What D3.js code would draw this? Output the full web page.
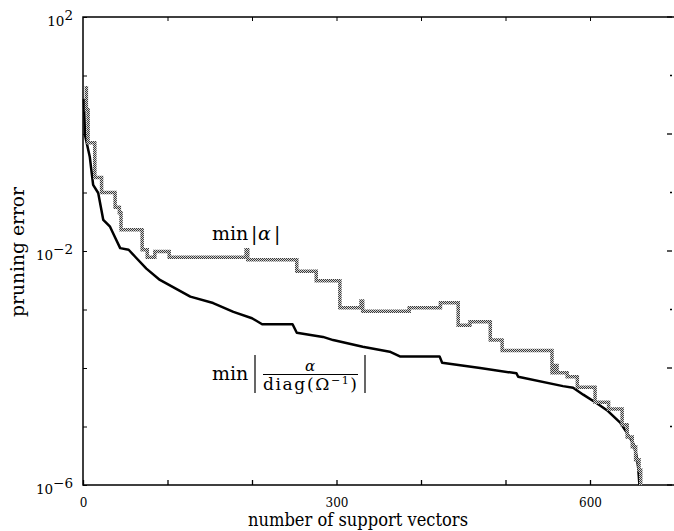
<html>
  <head>
    <meta charset="utf-8">
    <title>pruning error</title>
    <style>
      body { margin: 0; background: #fff; }
      text { font-family: "DejaVu Serif", serif; fill: #000; }
    </style>
  </head>
  <body>
    <script src="https://d3js.org/d3.v7.min.js" charset="utf-8"></script>
    <script>

    var width = 674,
        height = 531;

    // min |alpha| (grey staircase) : x = number of support vectors, y = pruning error
    var grayX = [2, 4, 6, 14, 22, 38, 43, 45, 70, 76, 85, 102, 193, 195, 253, 276, 304, 329, 331, 386,
                 423, 444, 458, 482, 496, 555, 559, 561, 573, 585, 606, 622, 638, 644, 650, 654, 658, 660];
    var grayY = [6.2, 2.6, 0.71, 0.18, 0.10, 0.056, 0.045, 0.023, 0.0105, 0.0078, 0.0098, 0.0078, 0.0105, 0.0071, 0.0045,
                 0.0031, 0.00107, 0.0014, 0.00093, 0.00107, 0.0013, 0.00054, 0.00062, 0.00030, 0.00020,
                 8.3e-5, 1.1e-4, 8.3e-5, 7.1e-5, 4.7e-5, 2.6e-5, 2.0e-5, 1.07e-5, 6.6e-6, 4.5e-6, 2.7e-6, 1.8e-6, 1e-6];

    // min |alpha / diag(Omega^-1)| (black curve)
    var blackX = [1, 2.4, 8, 12, 18, 24, 32, 38, 44, 54, 62, 75, 91, 127, 154, 178, 200, 212, 248, 253,
                  284, 296, 331, 363, 375, 422, 425, 470, 513, 515, 568, 580, 592, 608, 620, 636, 643, 651, 655, 657, 658.5];
    var blackY = [3.98, 0.955, 0.41, 0.135, 0.098, 0.034, 0.026, 0.017, 0.0112, 0.0105,
                  0.0079, 0.0050, 0.0032, 0.00166, 0.00129, 0.00091, 0.00071, 0.00056, 0.00056, 0.00040,
                  0.00034, 0.00030, 0.00023, 0.00019, 0.000158, 0.000158, 0.000123, 1.0e-4, 8.1e-5, 7.1e-5,
                  4.9e-5, 4.6e-5, 3.5e-5, 2.5e-5, 1.9e-5, 1.15e-5, 8.1e-6, 5.2e-6, 3.2e-6, 2.0e-6, 1e-6];

    var xTicks = [0, 100, 200, 300, 400, 500, 600];
    var xLabels = [0, 300, 600];
    var yTicks = [1e2, 1e1, 1e0, 1e-1, 1e-2, 1e-3, 1e-4, 1e-5, 1e-6];
    var yLabels = [2, -2, -6];   // exponents shown on the left

    var pLeft = 83, pRight = 674.5, pTop = 17, pBottom = 485;

    var x = d3.scaleLinear().domain([0, 700]).range([pLeft, pRight]);
    var y = d3.scaleLog().domain([1e-6, 1e2]).range([pBottom, pTop]);

    var svg = d3.select("body").append("svg")
        .attr("width", width)
        .attr("height", height);

    // dithered grey stroke like the scanned original
    var pat = svg.append("defs").append("pattern")
        .attr("id", "dither").attr("patternUnits", "userSpaceOnUse")
        .attr("width", 2).attr("height", 2);
    pat.append("rect").attr("width", 2).attr("height", 2).attr("fill", "#d4d4d4");
    pat.append("rect").attr("width", 1).attr("height", 1).attr("fill", "#3a3a3a");
    pat.append("rect").attr("x", 1).attr("y", 1).attr("width", 1).attr("height", 1).attr("fill", "#3a3a3a");

    // bottom axis, ticks pointing inward
    var xAxis = d3.axisBottom(x).tickValues(xTicks).tickSizeInner(-5).tickSizeOuter(0).tickPadding(13.5)
        .tickFormat(function(d) { return xLabels.indexOf(d) >= 0 ? d : ""; });
    var gx = svg.append("g").attr("transform", "translate(0," + pBottom + ")").call(xAxis);
    gx.attr("font-family", null).attr("font-size", null);
    gx.select(".domain").remove();
    gx.selectAll("line").attr("stroke-width", 1.3);
    gx.selectAll("text").style("font-size", "12px");

    // top ticks
    var gxt = svg.append("g").attr("transform", "translate(0," + pTop + ")")
        .call(d3.axisTop(x).tickValues(xTicks.slice(1)).tickSizeInner(-4).tickSizeOuter(0).tickFormat(""));
    gxt.select(".domain").remove();

    // left ticks
    var gy = svg.append("g").attr("transform", "translate(" + pLeft + ",0)")
        .call(d3.axisLeft(y).tickValues(yTicks).tickSizeInner(-4).tickSizeOuter(0).tickFormat(""));
    gy.select(".domain").remove();

    // right ticks, long on even exponents
    svg.append("g").selectAll("line").data(yTicks).enter().append("line")
        .attr("x1", 672)
        .attr("x2", function(d) { return Math.round(Math.log10(d)) % 2 == 0 ? 667 : 670; })
        .attr("y1", function(d) { return y(d); })
        .attr("y2", function(d) { return y(d); })
        .attr("stroke", "#000").attr("stroke-width", 1.3);

    // left labels 10^n
    var lab = svg.append("g").selectAll("text").data(yLabels).enter().append("text")
        .attr("x", 73)
        .attr("y", function(d) { return y(Math.pow(10, d)) + 8.5; })
        .attr("text-anchor", "end")
        .style("font-size", "13.5px");
    lab.append("tspan").text("10");
    lab.append("tspan").attr("dy", -6).text(function(d) { return d < 0 ? "\u2212" + (-d) : d; });

    // frame
    svg.append("path")
        .attr("d", "M" + pRight + "," + pTop + "H" + pLeft + "V" + pBottom + "H" + pRight)
        .attr("fill", "none").attr("stroke", "#000").attr("stroke-width", 1.5);

    var blackData = blackX.map(function(d, i) { return [d, blackY[i]]; });
    var grayData = grayX.map(function(d, i) { return [d, grayY[i]]; });

    var line = d3.line().x(function(d) { return x(d[0]); }).y(function(d) { return y(d[1]); });
    var step = d3.line().curve(d3.curveStepAfter).x(function(d) { return x(d[0]); }).y(function(d) { return y(d[1]); });

    svg.append("path").datum(blackData)
        .attr("d", line)
        .attr("fill", "none").attr("stroke", "#000").attr("stroke-width", 2.5)
        .attr("stroke-linejoin", "round");

    svg.append("path").datum(grayData)
        .attr("d", step)
        .attr("fill", "none").attr("stroke", "url(#dither)").attr("stroke-width", 3.5);

    // axis titles
    svg.append("text")
        .attr("x", 248).attr("y", 525.5)
        .attr("textLength", 220).attr("lengthAdjust", "spacingAndGlyphs")
        .style("font-size", "18px")
        .text("number of support vectors");

    svg.append("text")
        .attr("transform", "translate(24,317) rotate(-90)")
        .attr("textLength", 130).attr("lengthAdjust", "spacingAndGlyphs")
        .style("font-size", "19px")
        .text("pruning error");

    // label min |alpha|
    svg.append("text").attr("x", 212).attr("y", 240).style("font-size", "19px").text("min");
    svg.append("text").attr("x", 251).attr("y", 240).style("font-size", "19px").text("|");
    svg.append("text").attr("x", 258).attr("y", 240).style("font-size", "19px").style("font-style", "italic").text("\u03b1");
    svg.append("text").attr("x", 274).attr("y", 240).style("font-size", "19px").text("|");

    // label min |alpha / diag(Omega^-1)|
    svg.append("text").attr("x", 212).attr("y", 380).style("font-size", "19px").text("min");
    svg.append("line").attr("x1", 255).attr("x2", 255).attr("y1", 355).attr("y2", 393)
        .attr("stroke", "#000").attr("stroke-width", 1.2);
    svg.append("line").attr("x1", 365).attr("x2", 365).attr("y1", 355).attr("y2", 393)
        .attr("stroke", "#000").attr("stroke-width", 1.2);
    svg.append("text").attr("x", 310).attr("y", 371).attr("text-anchor", "middle")
        .style("font-size", "15px").style("font-style", "italic").text("\u03b1");
    svg.append("line").attr("x1", 263).attr("x2", 358).attr("y1", 374.5).attr("y2", 374.5)
        .attr("stroke", "#000").attr("stroke-width", 1);
    var dg = svg.append("text").attr("x", 263).attr("y", 390).style("font-size", "17px")
        .attr("textLength", 94).attr("lengthAdjust", "spacing");
    dg.append("tspan").text("diag(\u03a9");
    dg.append("tspan").attr("dy", -6).style("font-size", "11px").text("\u22121");
    dg.append("tspan").attr("dy", 6).text(")");

    </script>
  </body>
</html>
